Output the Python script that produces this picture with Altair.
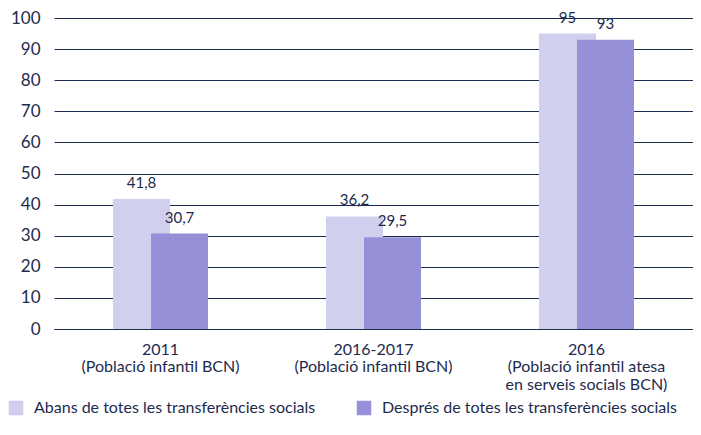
import altair as alt
import pandas as pd

categories = ["2011|(Població infantil BCN)", "2016-2017|(Població infantil BCN)",
              "2016|(Població infantil atesa|en serveis socials BCN)"]
series = ["Abans de totes les transferències socials", "Després de totes les transferències socials"]
abans = [41.8, 36.2, 95]
despres = [30.7, 29.5, 93]
colors = ["#d1cfee", "#9690d8"]

def fmt(v):
    return (str(int(v)) if float(v).is_integer() else str(v)).replace(".", ",")

rows = []
for c, a, d in zip(categories, abans, despres):
    rows.append({"cat": c, "serie": series[0], "value": a, "label": fmt(a)})
    rows.append({"cat": c, "serie": series[1], "value": d, "label": fmt(d)})
df = pd.DataFrame(rows)

navy = "#1d2b4f"
FONT = "Lato"

x = alt.X("cat:N", sort=categories, title=None,
          scale=alt.Scale(paddingInner=0, paddingOuter=0),
          axis=alt.Axis(labelAngle=0, labelExpr="split(datum.label, '|')",
                        labelFontSize=16, labelColor=navy, labelFont=FONT,
                        ticks=False, domainColor=navy, domainWidth=1,
                        labelPadding=12, labelLineHeight=17.5))
y = alt.Y("value:Q", title=None,
          scale=alt.Scale(domain=[0, 100]),
          axis=alt.Axis(values=list(range(0, 101, 10)), labelFontSize=17,
                        labelColor=navy, labelFont=FONT, ticks=False, domain=False,
                        gridColor=navy, gridWidth=1, labelPadding=14))
color = alt.Color("serie:N", scale=alt.Scale(domain=series, range=colors),
                  legend=alt.Legend(orient="none", legendX=-46, legendY=382,
                                    direction="horizontal", title=None,
                                    symbolType="square", symbolSize=210,
                                    symbolStrokeWidth=0, labelFontSize=16,
                                    labelColor=navy, labelFont=FONT,
                                    labelOffset=10, columnPadding=40,
                                    labelLimit=400))

base = alt.Chart(df)
OFF = 19
light_bar = base.transform_filter(alt.datum.serie == series[0]).mark_bar(
    width=57, xOffset=-OFF).encode(x=x, y=y, color=color)
dark_bar = base.transform_filter(alt.datum.serie == series[1]).mark_bar(
    width=57, xOffset=OFF).encode(x=x, y=y, color=color)
light_txt = base.transform_filter(alt.datum.serie == series[0]).mark_text(
    xOffset=-OFF, dy=-8, baseline="bottom", fontSize=15, color=navy, font=FONT
).encode(x=x, y=y, text="label:N")
dark_txt = base.transform_filter(alt.datum.serie == series[1]).mark_text(
    xOffset=OFF, dy=-8, baseline="bottom", fontSize=15, color=navy, font=FONT
).encode(x=x, y=y, text="label:N")

chart = alt.layer(light_bar, dark_bar, light_txt, dark_txt).properties(
    width=639, height=311, background="white",
    padding={"left": 0, "top": 1, "right": 0, "bottom": 0}
).configure_view(stroke=None)

chart.save("out.html", embed_options={"renderer": "svg", "actions": False})
